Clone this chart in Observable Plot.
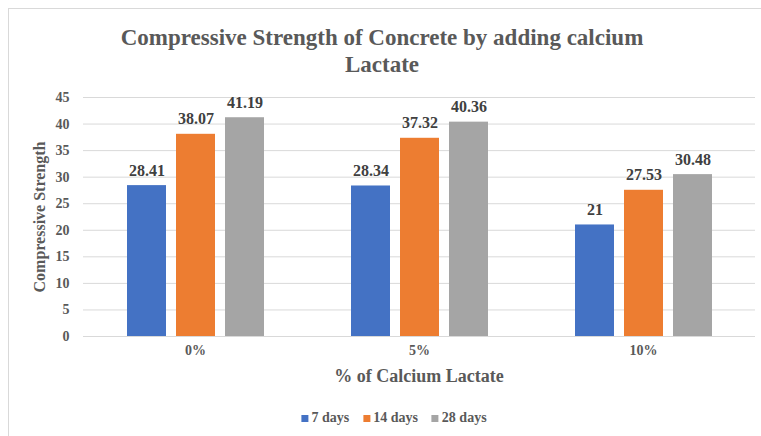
<!DOCTYPE html>
<html><head><meta charset="utf-8">
<script src="https://cdn.jsdelivr.net/npm/d3@7"></script>
<script src="https://cdn.jsdelivr.net/npm/@observablehq/plot@0.6"></script>
</head>
<body style="margin:0;font-family:'Liberation Serif',Tinos,'Times New Roman',serif;font-weight:bold;color:#595959;background:#fff">
<div id="wrap" style="position:relative;width:761px;height:436px;overflow:hidden">
  <div style="position:absolute;left:8px;top:8px;width:800px;height:500px;border-left:1px solid #d9d9d9;border-top:1px solid #d9d9d9"></div>
  <div id="chart" style="position:absolute;left:0;top:0"></div>
  <div style="position:absolute;left:0;width:764px;top:24px;text-align:center;font-size:23px;line-height:27px">Compressive Strength of Concrete by adding calcium<br>Lactate</div>
  <div style="position:absolute;left:40px;top:217px;transform:translate(-50%,-50%) rotate(-90deg);white-space:nowrap;font-size:16px">Compressive Strength</div>
  <div style="position:absolute;left:419px;top:376px;transform:translate(-50%,-50%);white-space:nowrap;font-size:18px">% of Calcium Lactate</div>
  <div id="legend" style="position:absolute;left:394px;top:418px;transform:translate(-50%,-50%);white-space:nowrap;font-size:14px;display:flex;align-items:center"></div>
</div>
<script>
const categories = ["0%", "5%", "10%"];
const series = ["7 days", "14 days", "28 days"];
const values7 = [28.41, 28.34, 21];
const values14 = [38.07, 37.32, 27.53];
const values28 = [41.19, 40.36, 30.48];
const colors = ["#4472C4", "#ED7D31", "#A5A5A5"];
const yTicks = [0, 5, 10, 15, 20, 25, 30, 35, 40, 45];

const FONT = "'Liberation Serif', Tinos, 'Times New Roman', serif";

const seriesValues = [values7, values14, values28];
const data = [];
categories.forEach((c, i) => {
  series.forEach((s, j) => {
    data.push({pct: c, series: s, value: seriesValues[j][i]});
  });
});

const chart = Plot.plot({
  width: 761,
  height: 436,
  marginTop: 97,
  marginBottom: 100,
  marginLeft: 82,
  marginRight: 6,
  style: {fontFamily: FONT, fontWeight: "bold", fontSize: "14px", color: "#595959", background: "transparent"},
  fx: {domain: categories, padding: 0, label: null},
  x: {domain: series, paddingInner: 0.212, paddingOuter: 0.874, axis: null},
  y: {domain: [0, 45], label: null},
  color: {domain: series, range: colors},
  marks: [
    Plot.gridY(yTicks, {stroke: "#d9d9d9", strokeOpacity: 1}),
    Plot.axisY(yTicks, {tickSize: 0, tickPadding: 14, label: null, fontSize: 14}),
    Plot.axisFx({anchor: "bottom", tickSize: 0, tickPadding: 9, label: null, fontSize: 14}),
    Plot.barY(data, {fx: "pct", x: "series", y: "value", fill: "series"}),
    Plot.text(data, {fx: "pct", x: "series", y: "value", text: d => String(d.value), dy: -15, fontSize: 16, fill: "#404040"})
  ]
});
document.getElementById("chart").appendChild(chart);

const legend = document.getElementById("legend");
series.forEach((s, i) => {
  const item = document.createElement("div");
  item.style.cssText = "display:flex;align-items:center;margin:0 7px";
  const sw = document.createElement("div");
  sw.style.cssText = "width:7px;height:7px;margin-right:3px;background:" + colors[i];
  const t = document.createElement("span");
  t.textContent = s;
  item.appendChild(sw);
  item.appendChild(t);
  legend.appendChild(item);
});

document.querySelectorAll("#wrap, #wrap *").forEach(el => {
  el.style.setProperty("font-family", FONT, "important");
});
</script>
</body>
</html>
